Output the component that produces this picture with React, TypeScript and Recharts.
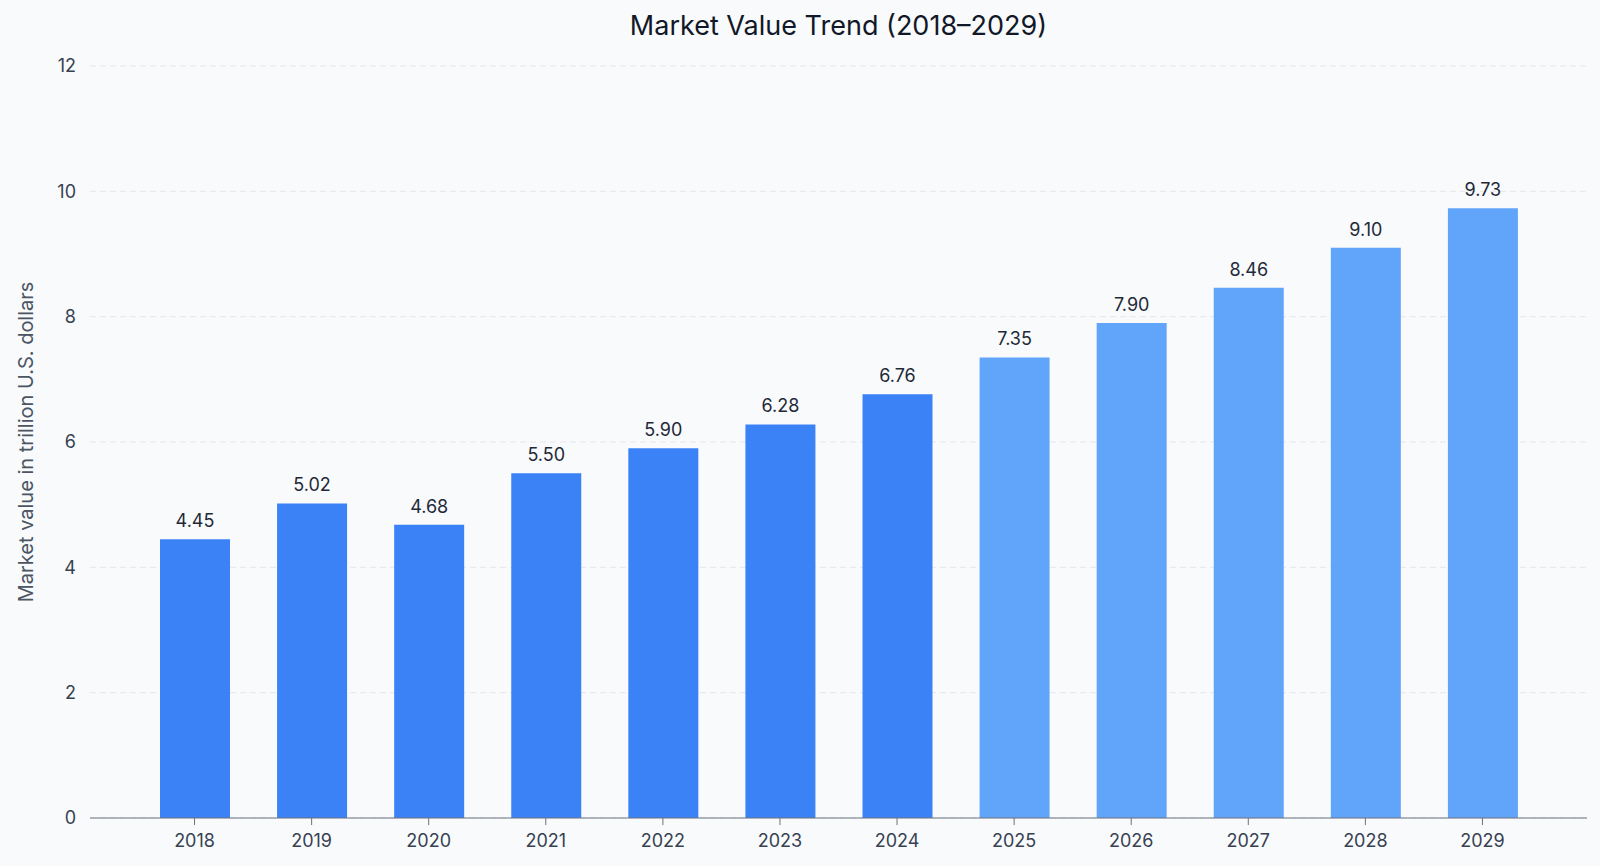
import React from "react";
import { Bar, BarChart, CartesianGrid, Cell, LabelList, XAxis, YAxis } from "recharts";

const years = ["2018", "2019", "2020", "2021", "2022", "2023", "2024", "2025", "2026", "2027", "2028", "2029"];
const marketValues = [4.45, 5.02, 4.68, 5.5, 5.9, 6.28, 6.76, 7.35, 7.9, 8.46, 9.1, 9.73];
const forecastFrom = "2025";
const yTicks = [0, 2, 4, 6, 8, 10, 12];

const data = years.map((year, i) => ({ year, value: marketValues[i] }));

const FONT = "Inter, 'Open Sans', sans-serif";
const ACTUAL = "#3b82f6";
const FORECAST = "#60a5fa";

export default function App() {
  return (
    <div
      style={{
        position: "fixed",
        left: 0,
        top: 0,
        width: 1600,
        height: 866,
        background: "#f8fafc",
        fontFamily: FONT,
      }}
    >
      <div
        style={{
          position: "absolute",
          left: 90,
          width: 1497,
          top: 8,
          textAlign: "center",
          fontSize: 27,
          color: "#111827",
          lineHeight: "36px",
        }}
      >
        Market Value Trend (2018–2029)
      </div>
      <BarChart
        width={1600}
        height={866}
        data={data}
        margin={{ top: 66, right: 13, left: 0, bottom: 8 }}
        style={{ position: "absolute", left: 0, top: 0 }}
      >
        <CartesianGrid vertical={false} stroke="#e5e7eb" strokeDasharray="6 4" />
        <XAxis
          dataKey="year"
          padding={{ left: 46, right: 46 }}
          height={40}
          stroke="#6b7280"
          tick={{ fill: "#374151", fontSize: 18, fontFamily: FONT }}
          tickSize={7}
          tickMargin={9}
        />
        <YAxis
          domain={[0, 12]}
          ticks={yTicks}
          width={90}
          axisLine={false}
          tickLine={false}
          tickMargin={8}
          tick={{ fill: "#374151", fontSize: 18, fontFamily: FONT }}
          label={{
            value: "Market value in trillion U.S. dollars",
            angle: -90,
            position: "center",
            dx: -19,
            style: { fill: "#4b5563", fontSize: 20, fontFamily: FONT, textAnchor: "middle" },
          }}
        />
        <Bar dataKey="value" barSize={70} isAnimationActive={false}>
          {data.map((d) => (
            <Cell key={d.year} fill={d.year >= forecastFrom ? FORECAST : ACTUAL} />
          ))}
          <LabelList
            dataKey="value"
            position="top"
            offset={12}
            formatter={(v: number) => v.toFixed(2)}
            style={{ fill: "#1f2937", fontSize: 18, fontFamily: FONT }}
          />
        </Bar>
      </BarChart>
    </div>
  );
}
